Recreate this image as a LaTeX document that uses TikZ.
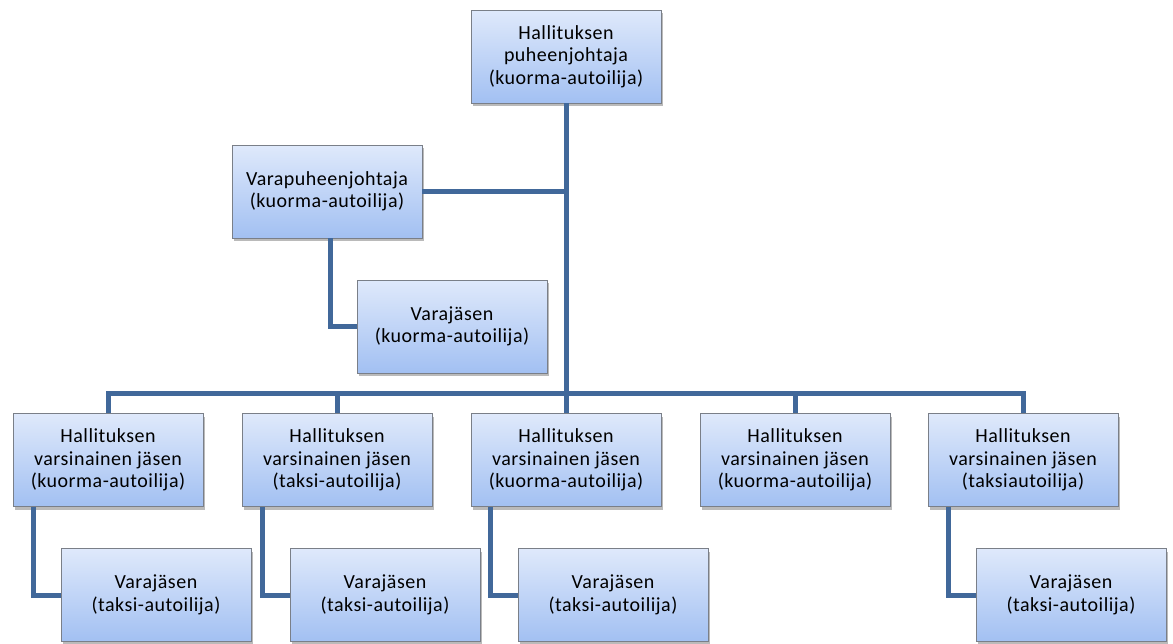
\documentclass[tikz,border=0pt]{standalone}
\usepackage{fontspec}
\setmainfont{Carlito}[LetterSpace=2.5]
\usetikzlibrary{shadows}
\definecolor{linec}{HTML}{41689A}
\definecolor{topc}{HTML}{DFE9FB}
\definecolor{botc}{HTML}{A2C0F2}
\definecolor{bordc}{HTML}{7A7F88}
\begin{document}
\begin{tikzpicture}[x=1pt,y=-1pt,
  box/.style={draw=bordc, line width=0.8pt, top color=topc, bottom color=botc,
    minimum width=190pt, minimum height=93pt, inner sep=0pt, align=center,
    font=\fontsize{20}{22.5}\selectfont,
    drop shadow={shadow xshift=2pt, shadow yshift=-3pt, opacity=0.45, fill=black!60}},
  conn/.style={draw=linec, line width=5pt}]
\useasboundingbox (0,0) rectangle (1173,643);
\node[box] (top) at (566,56.5) {Hallituksen\\puheenjohtaja\\(kuorma-autoilija)};
\node[box] (vp) at (327,191.5) {Varapuheenjohtaja\\(kuorma-autoilija)};
\node[box] (vpv) at (452,326.5) {Varajäsen\\(kuorma-autoilija)};
\node[box] (m1) at (108,460) {Hallituksen\\varsinainen jäsen\\(kuorma-autoilija)};
\node[box] (m2) at (337,460) {Hallituksen\\varsinainen jäsen\\(taksi-autoilija)};
\node[box] (m3) at (566,460) {Hallituksen\\varsinainen jäsen\\(kuorma-autoilija)};
\node[box] (m4) at (795,460) {Hallituksen\\varsinainen jäsen\\(kuorma-autoilija)};
\node[box] (m5) at (1023,460) {Hallituksen\\varsinainen jäsen\\(taksiautoilija)};
\node[box] (v1) at (156,595) {Varajäsen\\(taksi-autoilija)};
\node[box] (v2) at (385,595) {Varajäsen\\(taksi-autoilija)};
\node[box] (v3) at (613,595) {Varajäsen\\(taksi-autoilija)};
\node[box] (v5) at (1071,595) {Varajäsen\\(taksi-autoilija)};
\coordinate (bus) at (566,393);
\draw[conn] (top.south) -- (bus);
\draw[conn] (vp.east) -- (vp.east -| top.south);
\draw[conn] ([xshift=3pt]vp.south) |- (vpv.west);
\draw[conn] (m1.north) |- (bus) -| (m5.north);
\draw[conn] (m2.north) -- (m2.north |- bus);
\draw[conn] (m3.north) -- (bus);
\draw[conn] (m4.north) -- (m4.north |- bus);
\draw[conn] ([xshift=-75pt]m1.south) |- (v1.west);
\draw[conn] ([xshift=-75pt]m2.south) |- (v2.west);
\draw[conn] ([xshift=-76pt]m3.south) |- (v3.west);
\draw[conn] ([xshift=-75pt]m5.south) |- (v5.west);
\end{tikzpicture}
\end{document}
